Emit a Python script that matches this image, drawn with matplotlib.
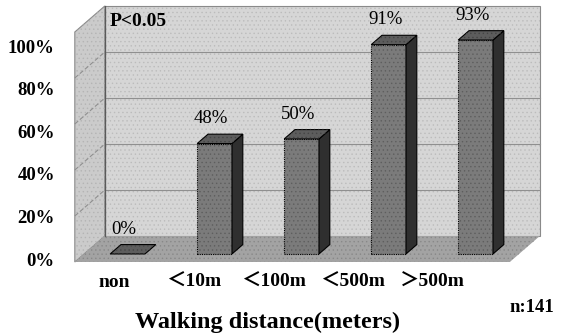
import matplotlib.pyplot as plt
from matplotlib.patches import Polygon

categories = ["non", "＜10m", "＜100m", "＜500m", "＞500m"]
percent = [0, 48, 50, 91, 93]
tick_values = [0, 20, 40, 60, 80, 100]

plt.rcParams['font.family'] = ['Liberation Serif', 'Noto Sans CJK JP']
plt.rcParams['hatch.linewidth'] = 0.5

# fake 3d: depth z (0 = front edge of floor, 1 = back wall) moves points right and up
DX = 30 / 87
DY = 26 / 2.3


def proj(x, y, z):
    return (x + z * DX, y + z * DY)


def face(ax, pts, color, edge, lw=0.8, ls='-', z=1, hatch=None, hatch_color=None):
    xy = [proj(*p) for p in pts]
    ax.add_patch(Polygon(xy, closed=True, facecolor=color, edgecolor=edge,
                         linewidth=lw, linestyle=ls, zorder=z))
    if hatch:
        # separate patch so the texture can have its own colour
        ax.add_patch(Polygon(xy, closed=True, facecolor='none', edgecolor=hatch_color,
                             linewidth=0, hatch=hatch, zorder=z))


fig = plt.figure(figsize=(5.64, 3.36), dpi=100)
ax = fig.add_axes([0, 0, 1, 1])
ax.set_xlim(-118.3 / 87, (564 - 118.3) / 87)
ax.set_ylim((262 - 336) / 2.3, 262 / 2.3)
ax.axis('off')

x0, x1 = -0.5, len(categories) - 0.5
ymax = 100

# walls and floor
face(ax, [(x0, 0, 0), (x0, 0, 1), (x0, ymax, 1), (x0, ymax, 0)], '#cbcbcb', '#8a8a8a',
     hatch='....', hatch_color='#b4b4b4')
face(ax, [(x0, 0, 1), (x1, 0, 1), (x1, ymax, 1), (x0, ymax, 1)], '#d6d6d6', '#8a8a8a',
     hatch='....', hatch_color='#bcbcbc')
face(ax, [(x0, 0, 0), (x1, 0, 0), (x1, 0, 1), (x0, 0, 1)], '#a3a3a3', 'none',
     hatch='....', hatch_color='#888888')

# gridlines
for t in tick_values[1:-1]:
    a, b = proj(x0, t, 1), proj(x1, t, 1)
    ax.plot([a[0], b[0]], [a[1], b[1]], color='#8f8f8f', lw=0.8, zorder=2)
    a, b = proj(x0, t, 0), proj(x0, t, 1)
    ax.plot([a[0], b[0]], [a[1], b[1]], color='#8f8f8f', lw=0.8, ls=(0, (4, 2)), zorder=2)
a, b = proj(x0, 0, 1), proj(x0, ymax, 1)
ax.plot([a[0], b[0]], [a[1], b[1]], color='#5a5a5a', lw=0.9, zorder=2)

# bars
w = 0.2
zf, zb = 0.31, 0.67
for i, v in enumerate(percent):
    if v > 0:
        face(ax, [(i - w, 0, zf), (i + w, 0, zf), (i + w, v, zf), (i - w, v, zf)],
             '#7b7b7b', 'black', ls=(0, (1, 1)), z=3, hatch='....', hatch_color='#5e5e5e')
        face(ax, [(i + w, 0, zf), (i + w, 0, zb), (i + w, v, zb), (i + w, v, zf)],
             '#2f2f2f', 'black', z=3)
    face(ax, [(i - w, v, zf), (i + w, v, zf), (i + w, v, zb), (i - w, v, zb)],
         '#5d5d5d', 'black', z=4, hatch='....', hatch_color='#454545')
    px, py = proj(i - 0.04, v + 10.8, zf)
    ax.text(px, py, f"{v}%", ha='center', va='center', fontsize=13.5, zorder=5)

# y tick labels (sit a little lower than the wall edge, like the original)
for t in tick_values:
    ax.text(-0.73, t * 0.925 + 0.4, f"{t}%", ha='right', va='center',
            fontsize=13.5, fontweight='bold')

# category labels
for i, c in enumerate(categories):
    ax.text(-0.05 + i * 0.914, -8.7, c, ha='center', va='center',
            fontsize=14, fontweight='bold')

fig.text(0.195, 0.935, "P<0.05", ha='left', va='center', fontsize=14, fontweight='bold')
fig.text(0.475, 0.040, "Walking distance(meters)", ha='center', va='center',
         fontsize=17.5, fontweight='bold')
fig.text(0.982, 0.086, "n:141", ha='right', va='center', fontsize=13.5, fontweight='bold')

fig.savefig("out.png", dpi=100)
